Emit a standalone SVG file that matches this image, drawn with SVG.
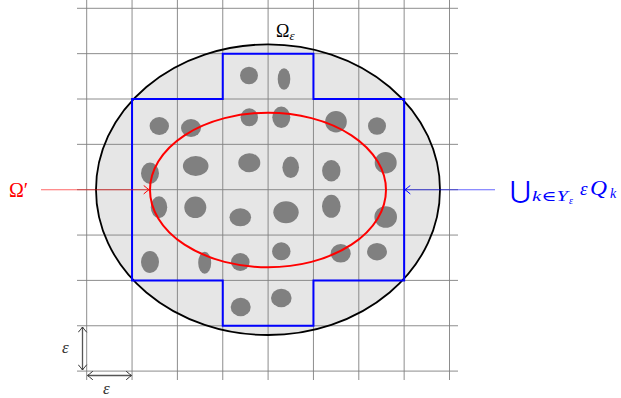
<svg xmlns="http://www.w3.org/2000/svg" width="621" height="398" viewBox="0 0 621 398">
<style>
.grid{stroke:#808080;stroke-width:0.9;fill:none}
.blob{fill:#808080}
.serif{font-family:"Liberation Serif","DejaVu Serif",serif}
.it{font-style:italic}
.blue{fill:#0000ff}
</style>
<defs>
<marker id="arR" viewBox="-6 -5 8 10" markerWidth="8" markerHeight="10" refX="0" refY="0" orient="auto" markerUnits="userSpaceOnUse">
<path d="M-5,-4 Q-1.5,-1 0,0 Q-1.5,1 -5,4" fill="none" stroke="#ff0000" stroke-width="1" stroke-linecap="round"/>
</marker>
<marker id="arB" viewBox="-6 -5 8 10" markerWidth="8" markerHeight="10" refX="0" refY="0" orient="auto" markerUnits="userSpaceOnUse">
<path d="M-5,-4 Q-1.5,-1 0,0 Q-1.5,1 -5,4" fill="none" stroke="#0000ff" stroke-width="1" stroke-linecap="round"/>
</marker>
<marker id="arG" viewBox="-6 -5 8 10" markerWidth="8" markerHeight="10" refX="0" refY="0" orient="auto-start-reverse" markerUnits="userSpaceOnUse">
<path d="M-5,-4 Q-1.5,-1 0,0 Q-1.5,1 -5,4" fill="none" stroke="#333" stroke-width="1" stroke-linecap="round"/>
</marker>
</defs>
<rect width="621" height="398" fill="#fff"/>
<g id="domain">
<ellipse cx="268" cy="189.7" rx="172" ry="145.3" fill="#e6e6e6"/>
</g>
<g id="grid" class="grid">
<path d="M86.7,-1V380M132.05,-1V380M177.4,-1V380M222.75,-1V380M268.1,-1V380M313.45,-1V380M358.8,-1V380M404.15,-1V380M449.5,-1V380"/>
<path d="M77,8.3H458M77,53.65H458M77,99H458M77,144.35H458M77,189.7H458M77,235.05H458M77,280.4H458M77,325.75H458M77,371.1H458"/>
</g>
<g id="inclusions" class="blob">
<ellipse cx="249" cy="75.5" rx="9" ry="8.8"/>
<ellipse cx="284" cy="79" rx="6.3" ry="10.8"/>
<ellipse cx="159.3" cy="126" rx="9.7" ry="9"/>
<ellipse cx="191" cy="128" rx="10" ry="9"/>
<ellipse cx="249.3" cy="117.3" rx="8.7" ry="9"/>
<ellipse cx="281.3" cy="117.3" rx="9" ry="10.8"/>
<ellipse cx="336" cy="121.7" rx="10.8" ry="10.8"/>
<ellipse cx="377" cy="126" rx="9" ry="8.8"/>
<ellipse cx="150" cy="173.3" rx="9" ry="10.7"/>
<ellipse cx="195.7" cy="166" rx="12.8" ry="10"/>
<ellipse cx="249.3" cy="162.7" rx="11" ry="9.5"/>
<ellipse cx="290.7" cy="167.3" rx="8.3" ry="10.8"/>
<ellipse cx="331.3" cy="170.7" rx="9.2" ry="10.7"/>
<ellipse cx="385.7" cy="162.7" rx="11" ry="10.8"/>
<ellipse cx="159" cy="207.3" rx="8.2" ry="11"/>
<ellipse cx="195.3" cy="207.3" rx="11" ry="10.8"/>
<ellipse cx="240.3" cy="217.3" rx="10.8" ry="9"/>
<ellipse cx="286" cy="212.3" rx="12.7" ry="11"/>
<ellipse cx="331.3" cy="206.3" rx="9.3" ry="11.5"/>
<ellipse cx="385.7" cy="217" rx="11.3" ry="10.8"/>
<ellipse cx="150" cy="262" rx="9" ry="11"/>
<ellipse cx="204.7" cy="262.7" rx="6.5" ry="11"/>
<ellipse cx="240.3" cy="262" rx="9.3" ry="9"/>
<ellipse cx="281.3" cy="251.3" rx="9.2" ry="9"/>
<ellipse cx="340.7" cy="253.3" rx="10" ry="9.3"/>
<ellipse cx="377" cy="251.7" rx="10" ry="8.7"/>
<ellipse cx="240.7" cy="307" rx="10" ry="9.2"/>
<ellipse cx="281.3" cy="298" rx="10.3" ry="9.2"/>
</g>
<g id="omega-eps">
<ellipse cx="268" cy="189.7" rx="172" ry="145.3" fill="none" stroke="#000" stroke-width="1.8"/>
<text class="serif" x="276" y="37" font-size="18" fill="#000">Ω<tspan class="it" font-size="13" dy="3">ε</tspan></text>
</g>
<g id="cubes">
<path d="M222.75,53.65H313.45V99H404.15V280.4H313.45V325.75H222.75V280.4H132.05V99H222.75Z" fill="none" stroke="#0000ff" stroke-width="2" stroke-linejoin="miter"/>
</g>
<g id="omega-prime">
<ellipse cx="268" cy="190" rx="118" ry="77.3" fill="none" stroke="#ff0000" stroke-width="2"/>
</g>
<g id="connectors">
<line x1="41" y1="189.7" x2="149" y2="189.7" stroke="#ff0000" stroke-opacity="0.6" stroke-width="1.1" marker-end="url(#arR)"/>
<line x1="495" y1="189.7" x2="405" y2="189.7" stroke="#0000ff" stroke-opacity="0.6" stroke-width="1.1" marker-end="url(#arB)"/>
<line x1="82.5" y1="327" x2="82.5" y2="370" stroke="#555" stroke-width="1.3" marker-start="url(#arG)" marker-end="url(#arG)"/>
<line x1="87.5" y1="375.5" x2="131.5" y2="375.5" stroke="#555" stroke-width="1.3" marker-start="url(#arG)" marker-end="url(#arG)"/>
</g>
<g id="labels">
<text class="serif" x="9" y="197" font-size="20" fill="#ff0000">Ω′</text>
<text class="serif blue" x="510" y="198" font-size="24" textLength="21" lengthAdjust="spacingAndGlyphs">⋃</text>
<text class="serif it blue" x="532" y="201" font-size="14" textLength="36" lengthAdjust="spacingAndGlyphs">k∈Y</text>
<text class="serif it blue" x="569" y="204" font-size="10">ε</text>
<text class="serif it blue" x="580" y="195" font-size="19">ε</text>
<text class="serif it blue" x="590" y="195" font-size="20" textLength="17" lengthAdjust="spacingAndGlyphs">Q</text>
<text class="serif it blue" x="610" y="198" font-size="14">k</text>
<text class="serif it" x="62" y="353" font-size="17" fill="#333">ε</text>
<text class="serif it" x="103" y="394" font-size="17" fill="#333">ε</text>
</g>
</svg>
